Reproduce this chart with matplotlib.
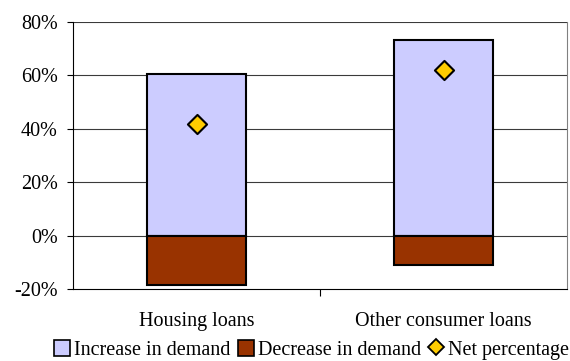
import matplotlib.pyplot as plt
from matplotlib.lines import Line2D
from matplotlib.patches import Patch

categories = ["Housing loans", "Other consumer loans"]
increase = [60.5, 73.3]
decrease = [-18.6, -11.1]
net = [41.9, 62.2]
y_ticks = [-20, 0, 20, 40, 60, 80]

plt.rcParams['font.family'] = ['Liberation Serif', 'DejaVu Serif']
plt.rcParams['font.size'] = 10
fs = 14.5

fig = plt.figure(figsize=(5.7, 3.61), dpi=100)
ax = fig.add_axes([73 / 570, 1 - 289 / 361, 494 / 570, 267 / 361])

x = [0.5, 1.5]
ax.bar(x, increase, width=0.4, color='#CCCCFF', edgecolor='black', linewidth=1.5, zorder=3)
ax.bar(x, decrease, width=0.4, color='#993300', edgecolor='black', linewidth=1.5, zorder=3)
ax.scatter(x, net, marker='D', s=95, color='#FFCC00', edgecolor='black', linewidth=1.5, zorder=4)

ax.set_xlim(0, 2)
ax.set_ylim(-20, 80)
ax.set_yticks(y_ticks)
ax.set_yticklabels([f"{t}%" for t in y_ticks], fontsize=fs)
for t in y_ticks[1:]:
    ax.axhline(t, color='#3a3a3a', linewidth=0.8, zorder=1)

ax.set_xticks([1])
ax.set_xticklabels([])
ax.tick_params(axis='x', length=5, width=0.8, direction='out')
ax.tick_params(axis='y', length=4.5, width=0.8, direction='out', pad=6.5)
for i, c in enumerate(categories):
    ax.text(x[i], -20 - 12.3, c, ha='center', va='center', fontsize=fs)

ax.spines['top'].set_visible(False)
ax.spines['right'].set_color('#808080')
ax.spines['left'].set_linewidth(0.8)
ax.spines['bottom'].set_linewidth(0.8)

handles = [
    Patch(facecolor='#CCCCFF', edgecolor='black', linewidth=1.2, label='Increase in demand'),
    Patch(facecolor='#993300', edgecolor='black', linewidth=1.2, label='Decrease in demand'),
    Line2D([], [], marker='D', linestyle='none', markersize=8, markerfacecolor='#FFCC00',
           markeredgecolor='black', markeredgewidth=1.3, label='Net percentage'),
]
fig.legend(handles=handles, loc='center left', bbox_to_anchor=(54 / 570, 1 - 350 / 361),
           ncol=3, frameon=False, fontsize=fs, handlelength=0.8, handleheight=0.8,
           handletextpad=0.2, columnspacing=0.35, borderpad=0, borderaxespad=0)

fig.savefig("out.png", dpi=100)
